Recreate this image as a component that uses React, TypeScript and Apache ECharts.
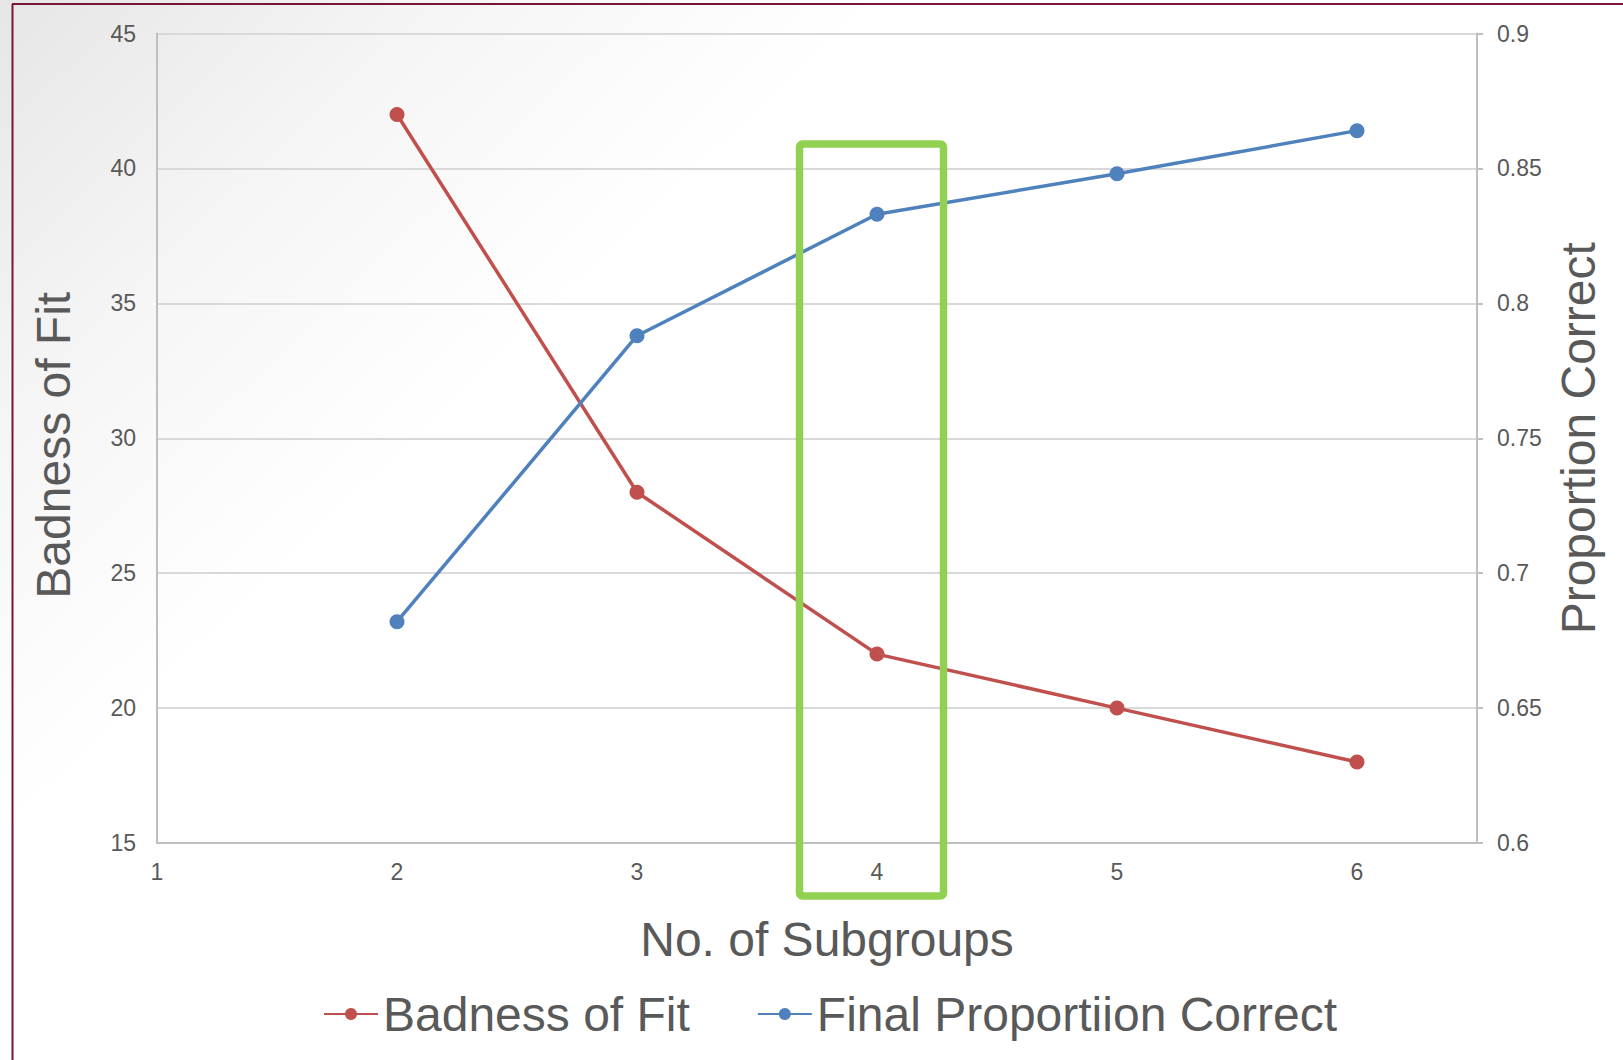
import React, { useEffect, useRef } from "react";
import * as echarts from "echarts";

const subgroups = [2, 3, 4, 5, 6];
const badnessOfFit = [42, 28, 22, 20, 18];
const finalProportionCorrect = [0.682, 0.788, 0.833, 0.848, 0.864];
const seriesNames = ["Badness of Fit", "Final Proportiion Correct"];
const axisTitles = { x: "No. of Subgroups", left: "Badness of Fit", right: "Proportion Correct" };

const FONT = "'Liberation Sans', Arial, sans-serif";
const TEXT = "#595959";
const AXIS = "#bfbfbf";
const GRID = "#d9d9d9";
const RED = "#C0504D";
const BLUE = "#4F81BD";

export default function App() {
  const ref = useRef<HTMLDivElement>(null);
  useEffect(() => {
    if (!ref.current) return;
    const chart = echarts.init(ref.current, undefined, { renderer: "svg" });
    const toPairs = (vals: number[]) => subgroups.map((x, i) => [x, vals[i]]);
    chart.setOption({
      animation: false,
      textStyle: { fontFamily: FONT },
      grid: { left: 157, right: 146, top: 33.5, bottom: 217, containLabel: false },
      legend: {
        left: 318,
        top: 985,
        itemWidth: 54,
        itemHeight: 15,
        itemGap: 67,
        textStyle: { fontSize: 48, color: TEXT, fontFamily: FONT },
        data: seriesNames,
      },
      xAxis: {
        type: "value",
        min: 1,
        max: 6.5,
        interval: 1,
        name: axisTitles.x,
        nameLocation: "middle",
        nameGap: 72,
        nameTextStyle: { fontSize: 48, color: TEXT, fontFamily: FONT, padding: [0, 0, 0, 20] },
        axisLine: { show: true, lineStyle: { color: AXIS, width: 2 } },
        axisTick: { show: false },
        splitLine: { show: false },
        axisLabel: {
          fontSize: 23,
          color: TEXT,
          margin: 17,
          formatter: (v: number) => (Number.isInteger(v) ? String(v) : ""),
        },
      },
      yAxis: [
        {
          type: "value",
          position: "left",
          min: 15,
          max: 45,
          interval: 5,
          name: axisTitles.left,
          nameLocation: "middle",
          nameGap: 80,
          nameTextStyle: { fontSize: 48, color: TEXT, fontFamily: FONT, padding: [0, 14, 0, 0] },
          axisLine: { show: true, lineStyle: { color: AXIS, width: 2 } },
          axisTick: { show: false },
          splitLine: { show: true, lineStyle: { color: GRID, width: 2 } },
          axisLabel: { fontSize: 23, color: TEXT, margin: 21 },
        },
        {
          type: "value",
          position: "right",
          min: 0.6,
          max: 0.9,
          interval: 0.05,
          name: axisTitles.right,
          nameLocation: "middle",
          nameRotate: 90,
          nameGap: 77,
          nameTextStyle: { fontSize: 48, color: TEXT, fontFamily: FONT },
          axisLine: { show: true, lineStyle: { color: AXIS, width: 2 } },
          axisTick: { show: true, length: 6, lineStyle: { color: AXIS, width: 2 } },
          splitLine: { show: false },
          axisLabel: { fontSize: 23, color: TEXT, margin: 20 },
        },
      ],
      graphic: [
        {
          type: "rect",
          z: -10,
          silent: true,
          shape: { x: 0, y: 0, width: 1623, height: 1060 },
          style: {
            fill: new echarts.graphic.LinearGradient(
              0, 0, 420, 440,
              [
                { offset: 0, color: "#e6e6e6" },
                { offset: 0.5, color: "#f5f5f5" },
                { offset: 1, color: "#ffffff" },
              ],
              true
            ),
          },
        },
        {
          type: "line",
          silent: true,
          shape: { x1: 12, y1: 4, x2: 1623, y2: 4 },
          style: { stroke: "#7a1535", lineWidth: 2 },
        },
        {
          type: "line",
          silent: true,
          shape: { x1: 12.5, y1: 4, x2: 12.5, y2: 1060 },
          style: { stroke: "#7a1535", lineWidth: 2 },
        },
        {
          type: "rect",
          z: 100,
          silent: true,
          shape: { x: 799.5, y: 144, width: 144, height: 752, r: 3 },
          style: { fill: "none", stroke: "#92D050", lineWidth: 7.5 },
        },
      ],
      series: [
        {
          name: seriesNames[0],
          type: "line",
          yAxisIndex: 0,
          data: toPairs(badnessOfFit),
          symbol: "circle",
          symbolSize: 15,
          lineStyle: { color: RED, width: 3.5 },
          itemStyle: { color: RED },
          z: 3,
        },
        {
          name: seriesNames[1],
          type: "line",
          yAxisIndex: 1,
          data: toPairs(finalProportionCorrect),
          symbol: "circle",
          symbolSize: 15,
          lineStyle: { color: BLUE, width: 3.5 },
          itemStyle: { color: BLUE },
          z: 3,
        },
      ],
    });
    return () => chart.dispose();
  }, []);
  return (
    <div
      ref={ref}
      style={{ position: "fixed", left: 0, top: 0, width: "1623px", height: "1060px", background: "#fff" }}
    />
  );
}
